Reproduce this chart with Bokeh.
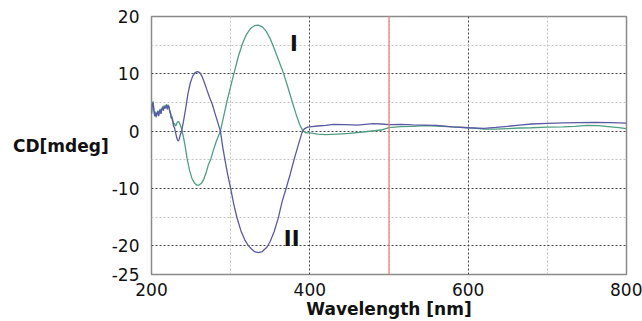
from bokeh.plotting import figure
from bokeh.models import FixedTicker, Span, Label, PrintfTickFormatter
from bokeh.embed import file_html
from bokeh.resources import INLINE

# ---- data ----
wl_I = [200, 201, 202, 203, 204, 205, 206, 207, 208, 209, 210, 211, 212, 213, 214, 215, 216, 217, 218, 219,
        220, 221, 222, 223, 224, 225, 226, 227, 228, 229, 230, 231, 232, 233, 234, 235, 236, 238, 240, 242,
        245, 248, 251, 254, 257, 260, 263, 266, 269, 272, 275, 278, 281, 284, 287, 291, 295, 300, 304, 310,
        315, 320, 325, 330, 335, 340, 345, 350, 355, 360, 367, 372, 378, 383, 387, 391, 395, 400, 410, 420,
        435, 450, 470, 490, 500, 515, 530, 545, 560, 580, 600, 620, 635, 650, 665, 680, 700, 720, 735, 750,
        765, 780, 790, 800]
cd_I = [3.2, 4.8, 5.2, 3.6, 2.8, 3.4, 2.4, 3.0, 3.6, 2.8, 3.3, 3.9, 3.1, 3.7, 4.3, 3.8, 4.5, 3.9, 4.4, 4.7,
        4.0, 4.6, 4.2, 3.4, 3.0, 2.2, 2.6, 1.8, 1.2, 1.4, 0.9, 1.0, 1.4, 1.6, 1.7, 1.5, 1.2, 0.4, -0.8, -2.2,
        -4.8, -6.8, -8.2, -9.0, -9.4, -9.4, -9.1, -8.4, -7.2, -5.8, -4.8, -3.4, -2.1, -1.0, 0.0, 2.5, 5.0, 7.8, 10.0, 13.2,
        15.3, 16.9, 17.9, 18.4, 18.5, 18.2, 17.4, 16.1, 14.4, 12.6, 10.0, 7.8, 5.0, 2.8, 1.2, 0.1, -0.3, -0.3, -0.5, -0.6,
        -0.5, -0.4, -0.1, 0.2, 0.6, 0.8, 0.85, 0.95, 0.9, 0.75, 0.6, 0.35, 0.35, 0.45, 0.55, 0.6, 0.7, 0.75, 0.85, 1.0,
        0.95, 0.75, 0.6, 0.45]

wl_II = [200, 201, 202, 203, 204, 205, 206, 207, 208, 209, 210, 211, 212, 213, 214, 215, 216, 217, 218, 219,
         220, 221, 222, 223, 224, 225, 226, 227, 228, 229, 230, 231, 232, 233, 234, 235, 236, 238, 240, 243,
         246, 249, 252, 255, 258, 261, 264, 267, 270, 273, 277, 280, 284, 287, 290, 293, 296, 300, 304, 308,
         313, 318, 322, 326, 330, 335, 340, 346, 350, 355, 360, 365, 370, 375, 380, 385, 390, 393, 397, 400,
         410, 420, 430, 445, 460, 470, 480, 490, 500, 515, 530, 545, 560, 580, 600, 620, 635, 650, 665, 680,
         700, 720, 740, 760, 780, 800]
cd_II = [3.0, 4.6, 5.0, 3.8, 2.6, 3.2, 2.6, 3.2, 3.4, 2.6, 3.5, 3.7, 3.0, 3.9, 4.1, 3.6, 4.3, 4.1, 4.2, 4.5,
         3.8, 4.4, 4.3, 3.6, 3.2, 2.4, 2.2, 1.6, 0.8, 0.6, 0.0, -0.6, -1.2, -1.6, -1.7, -1.4, -0.8, 0.0, 1.4, 3.8,
         6.5, 8.4, 9.6, 10.2, 10.4, 10.2, 9.5, 8.4, 7.2, 6.0, 4.6, 3.2, 1.4, 0.0, -2.8, -5.2, -7.4, -10.0, -12.8, -15.1,
         -17.4, -19.0, -19.9, -20.5, -21.0, -21.2, -21.0, -20.2, -19.2, -17.5, -15.2, -12.3, -10.0, -7.6, -5.0, -2.6, -0.3, 0.4, 0.7, 0.75,
         0.9, 1.0, 1.2, 1.15, 1.05, 1.2, 1.3, 1.25, 1.15, 1.2, 1.1, 1.05, 1.0, 0.75, 0.6, 0.5, 0.65, 0.85, 1.05, 1.25,
         1.35, 1.45, 1.5, 1.55, 1.5, 1.4]

x_ticks = [200, 400, 600, 800]
x_minor = [300, 500, 700]
y_ticks = [-25, -20, -10, 0, 10, 20]
y_minor = [-15, -5, 5, 15]
marker_wl = 500
curve_labels = ["I", "II"]
label_x = [380, 377]
label_y = [15.2, -18.8]

FONT = "DejaVu Sans"

p = figure(width=642, height=321,
           x_range=(200, 800), y_range=(-25, 20),
           output_backend="svg", toolbar_location=None,
           min_border_left=151, min_border_right=16, min_border_top=16, min_border_bottom=45)

p.background_fill_color = "white"
p.border_fill_color = "white"
p.outline_line_color = "#8a8a8a"
p.outline_line_width = 1.5

p.xaxis.ticker = FixedTicker(ticks=x_ticks, minor_ticks=x_minor)
p.yaxis.ticker = FixedTicker(ticks=y_ticks, minor_ticks=y_minor)
p.yaxis.formatter = PrintfTickFormatter(format="%d")

for ax in (p.xaxis, p.yaxis):
    ax.axis_line_color = None
    ax.major_tick_line_color = None
    ax.minor_tick_line_color = None
    ax.major_label_text_font = FONT
    ax.major_label_text_font_size = "17px"
    ax.major_label_text_color = "#111111"
    ax.axis_label_text_font = FONT
    ax.axis_label_text_font_style = "bold"
    ax.axis_label_text_font_size = "17px"
    ax.axis_label_text_color = "#111111"

p.xaxis.axis_label = "Wavelength [nm]"
p.xaxis.major_label_standoff = 2
p.xaxis.axis_label_standoff = 0
p.yaxis.axis_label = "CD[mdeg]"
p.yaxis.axis_label_orientation = "horizontal"
p.yaxis.major_label_standoff = 6
p.yaxis.axis_label_standoff = 0

for g in (p.xgrid, p.ygrid):
    g.grid_line_color = "#444444"
    g.grid_line_dash = "2 2"
    g.grid_line_width = 1
    g.minor_grid_line_color = "#c4c4c4"
    g.minor_grid_line_dash = "2 2"
    g.minor_grid_line_width = 1

p.add_layout(Span(location=marker_wl, dimension="height", line_color="#f07a7a", line_width=1.2))

p.line(wl_I, cd_I, line_color="#4f9f80", line_width=1.3)
p.line(wl_II, cd_II, line_color="#5a5aa2", line_width=1.3)

for t, lx, ly in zip(curve_labels, label_x, label_y):
    p.add_layout(Label(x=lx, y=ly, text=t, text_font=FONT, text_font_style="bold",
                       text_font_size="21px", text_align="center", text_baseline="middle",
                       text_color="#111111"))

open("out.html", "w").write(file_html(p, INLINE))
